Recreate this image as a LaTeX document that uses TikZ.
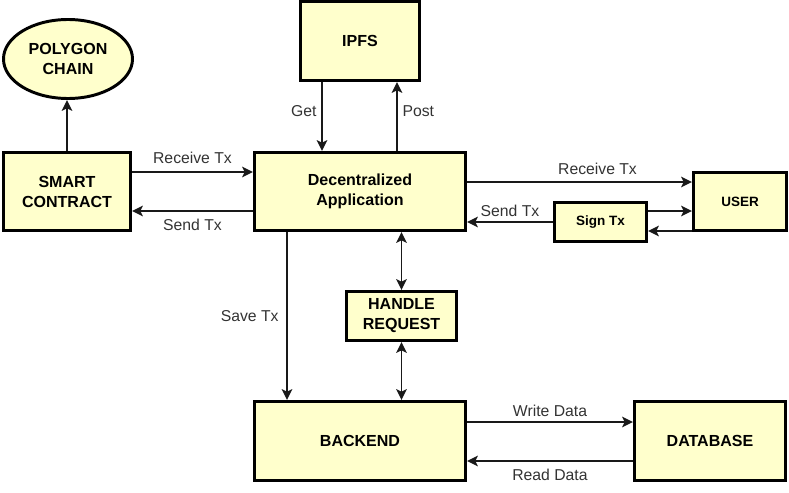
\documentclass[tikz,border=0pt]{standalone}
\usepackage{fontspec}
\setmainfont{Liberation Sans}
\usetikzlibrary{arrows.meta,shapes.geometric}
\definecolor{boxyellow}{HTML}{FFFFCC}

\begin{document}
\begin{tikzpicture}[
		box/.style={draw=black, line width=2.1pt, fill=boxyellow, align=center, inner sep=0pt, font=\fontsize{11.4}{14.2}\selectfont\bfseries},
		smallbox/.style={box, font=\fontsize{9.6}{12}\selectfont\bfseries},
		arr/.style={line width=1.3pt, draw=black!90, -{Stealth[length=0.27cm, width=0.26cm, inset=0.06cm]}},
		dblarr/.style={arr, {Stealth[length=0.27cm, width=0.26cm, inset=0.06cm]}-{Stealth[length=0.27cm, width=0.26cm, inset=0.06cm]}},
		lbl/.style={font=\fontsize{11.2}{13}\selectfont, text=black!80}
	]
			%%%%% START %%%%%
			
			\useasboundingbox (0, 0) rectangle (19.725, -12.3);
			
			\node[box, ellipse, minimum width=3.225cm, minimum height=1.975cm] (polygon) at (1.7, -1.475) {POLYGON\\CHAIN};
			\node[box, minimum width=2.975cm, minimum height=1.975cm] (ipfs) at (9, -1.025) {IPFS};
			
			\node[box, minimum width=3.175cm, minimum height=1.95cm] (contract) at (1.675, -4.7875) {SMART\\CONTRACT};
			\node[box, minimum width=5.275cm, minimum height=1.95cm] (dapp) at (9, -4.7875) {Decentralized\\Application};
			\node[smallbox, minimum width=2.3cm, minimum height=0.975cm] (sign) at (15.0125, -5.55) {Sign Tx};
			\node[smallbox, minimum width=2.325cm, minimum height=1.45cm] (user) at (18.5, -5.0375) {USER};
			
			\node[box, minimum width=2.75cm, minimum height=1.225cm] (handle) at (10.0375, -7.9) {HANDLE\\REQUEST};
			
			\node[box, minimum width=5.275cm, minimum height=1.975cm] (backend) at (9, -11.025) {BACKEND};
			\node[box, minimum width=3.775cm, minimum height=1.975cm] (database) at (17.75, -11.025) {DATABASE};
			
			\draw[arr] (contract.north) -- (contract.north |- polygon.south);
			
			\draw[arr] ([yshift=0.4875cm]contract.east) -- ([yshift=0.4875cm]dapp.west) node[lbl, midway, above=2pt] {Receive Tx};
			\draw[arr] ([yshift=-0.4875cm]dapp.west) -- ([yshift=-0.4875cm]contract.east) node[lbl, midway, below=2pt] {Send Tx};
			
			\draw[arr] ([xshift=-0.95cm]ipfs.south) -- ([xshift=-0.95cm]dapp.north) node[lbl, pos=0.42, left] {Get};
			\draw[arr] ([xshift=0.925cm]dapp.north) -- ([xshift=0.925cm]ipfs.south) node[lbl, pos=0.58, right] {Post};
			
			\draw[arr] ([yshift=0.2375cm]dapp.east) -- ([yshift=0.4875cm]user.west) node[lbl, pos=0.58, above=1pt] {Receive Tx};
			\draw[arr] (sign.west) -- (sign.west -| dapp.east) node[lbl, midway, above] {Send Tx};
			
			\coordinate (signup) at ([yshift=0.275cm]sign.east);
			\coordinate (signdown) at ([yshift=-0.225cm]sign.east);
			\draw[arr] (signup) -- (signup -| user.west);
			\draw[arr] (signdown -| user.west) -- (signdown);
			
			\draw[arr] ([xshift=-1.825cm]dapp.south) -- ([xshift=-1.825cm]backend.north) node[lbl, midway, left=2pt] {Save Tx};
			\draw[dblarr] (handle.north) -- (handle.north |- dapp.south);
			\draw[dblarr] (handle.south) -- (handle.south |- backend.north);
			
			\draw[arr] ([yshift=0.475cm]backend.east) -- ([yshift=0.475cm]database.west) node[lbl, midway, above] {Write Data};
			\draw[arr] ([yshift=-0.5cm]database.west) -- ([yshift=-0.5cm]backend.east) node[lbl, midway, below=2pt] {Read Data};
			
			%%%%% END %%%%%
\end{tikzpicture}
\end{document}
